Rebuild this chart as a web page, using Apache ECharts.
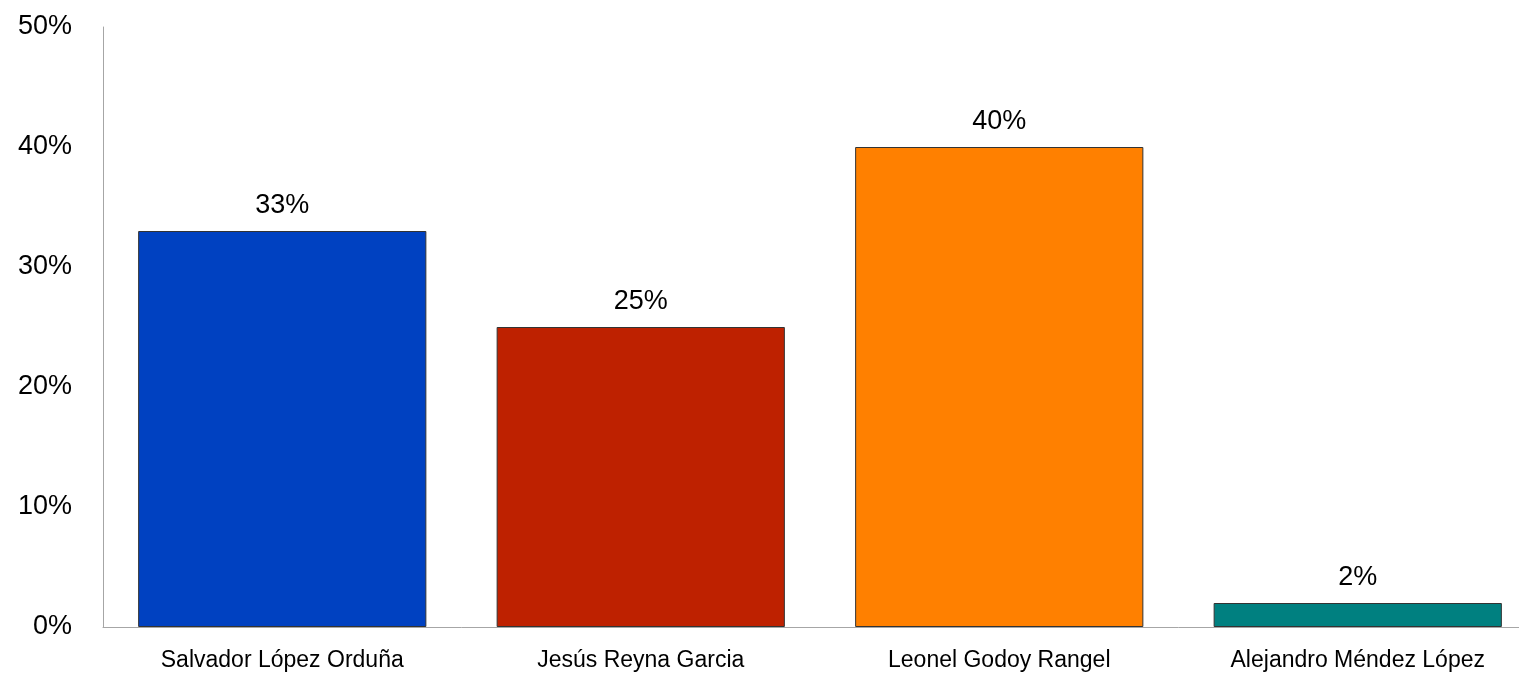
<!DOCTYPE html>
<html>
<head>
<meta charset="utf-8">
<script src="https://cdn.jsdelivr.net/npm/echarts@6/dist/echarts.min.js"></script>
<style>
html,body{margin:0;padding:0;background:#fff;overflow:hidden;width:1519px;height:673px;}
#c{width:1537px;height:673px;}
</style>
</head>
<body>
<div id="c"></div>
<script>
const categories = ['Salvador López Orduña', 'Jesús Reyna Garcia', 'Leonel Godoy Rangel', 'Alejandro Méndez López'];
const values = [33, 25, 40, 2];
const barColors = ['#0041C1', '#BE2100', '#FF8000', '#008080'];
const yTicks = [0, 10, 20, 30, 40, 50];

const chart = echarts.init(document.getElementById('c'), null, {renderer: 'canvas'});
const FONT = '"Liberation Sans", Arial, sans-serif';
chart.setOption({
  animation: false,
  backgroundColor: '#fff',
  grid: {left: 103, top: 27, right: 0, bottom: 46, containLabel: false},
  xAxis: {
    type: 'category',
    data: categories,
    axisLine: {lineStyle: {color: '#a6a6a6', width: 1}},
    axisTick: {show: false},
    axisLabel: {color: '#000', fontFamily: FONT, fontSize: 23, margin: 22}
  },
  yAxis: {
    type: 'value',
    min: yTicks[0],
    max: yTicks[yTicks.length - 1],
    interval: 10,
    axisLine: {show: true, lineStyle: {color: '#a6a6a6', width: 1}},
    axisTick: {show: false},
    splitLine: {show: false},
    axisLabel: {color: '#000', fontFamily: FONT, fontSize: 27, margin: 31, formatter: v => v + '%'}
  },
  series: [{
    type: 'bar',
    data: values.map((v, i) => ({value: v, itemStyle: {color: barColors[i]}})),
    barCategoryGap: '19.6%',
    itemStyle: {borderColor: '#333', borderWidth: 1},
    label: {show: true, position: 'top', distance: 12, color: '#000', fontFamily: FONT, fontSize: 27, formatter: p => p.value + '%'}
  }]
});
</script>
</body>
</html>
